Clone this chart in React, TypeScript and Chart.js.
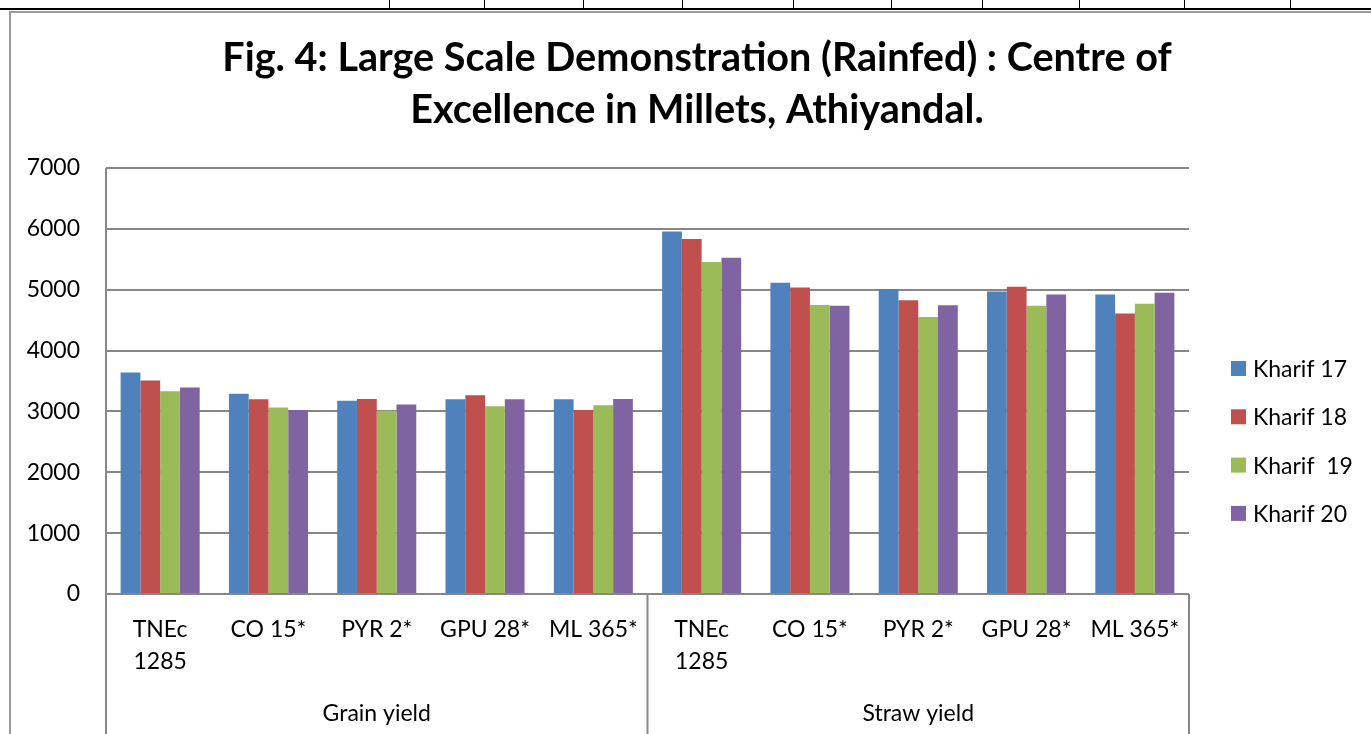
import React, { useEffect, useRef } from "react";
import { Chart, registerables } from "chart.js";

Chart.register(...registerables);

// ---------- data ----------
const TITLE_LINES = [
  "Fig. 4: Large Scale Demonstration (Rainfed) : Centre of",
  "Excellence in Millets, Athiyandal.",
];
const VARIETIES: (string | string[])[] = [["TNEc", "1285"], "CO 15*", "PYR 2*", "GPU 28*", "ML 365*"];
const GROUPS = ["Grain yield", "Straw yield"];
const CATEGORIES = [...VARIETIES, ...VARIETIES];
const SERIES_NAMES = ["Kharif 17", "Kharif 18", "Kharif  19", "Kharif 20"];
const SERIES_COLORS = ["#4F81BD", "#C0504D", "#9BBB59", "#8064A2"];
const KHARIF_17 = [3640, 3290, 3175, 3200, 3200, 5955, 5115, 5010, 4970, 4920];
const KHARIF_18 = [3510, 3200, 3205, 3265, 3025, 5835, 5035, 4825, 5050, 4610];
const KHARIF_19 = [3330, 3065, 3010, 3085, 3100, 5455, 4750, 4550, 4735, 4770];
const KHARIF_20 = [3395, 3025, 3115, 3200, 3205, 5525, 4735, 4745, 4920, 4950];
const SERIES = [KHARIF_17, KHARIF_18, KHARIF_19, KHARIF_20];
const Y_MIN = 0;
const Y_MAX = 7000;
const Y_STEP = 1000;
// decorative document-table ticks at top of page
const TABLE_COLS = [389, 484, 583, 682, 793, 891, 982, 1079, 1184, 1290];

// ---------- style ----------
const W = 1371;
const H = 734;
const FONT = "Lato, 'Open Sans', sans-serif";
const GRID = "#878787";
const PAD_LEFT = 23;
const PLOT_LEFT = 106;
const PLOT_RIGHT = 1189;
const PLOT_BOTTOM = 594;

const decorPlugin = {
  id: "decor",
  beforeDraw(chart: any) {
    const ctx = chart.ctx;
    ctx.save();
    // document table lines above the chart
    ctx.strokeStyle = "#000";
    ctx.lineWidth = 2;
    ctx.beginPath();
    ctx.moveTo(0, 9);
    ctx.lineTo(W, 9);
    ctx.stroke();
    ctx.lineWidth = 1;
    TABLE_COLS.forEach((cx) => {
      ctx.beginPath();
      ctx.moveTo(cx + 0.5, 0);
      ctx.lineTo(cx + 0.5, 9);
      ctx.stroke();
    });
    // chart frame
    ctx.strokeStyle = "#9a9a9a";
    ctx.lineWidth = 2;
    ctx.beginPath();
    ctx.moveTo(W, 12);
    ctx.lineTo(10, 12);
    ctx.lineTo(10, H);
    ctx.stroke();
    ctx.restore();
  },
  afterDraw(chart: any) {
    const ctx = chart.ctx;
    const ca = chart.chartArea;
    const x = chart.scales.x;
    const n = CATEGORIES.length;
    const per = VARIETIES.length;
    const half = (x.getPixelForTick(1) - x.getPixelForTick(0)) / 2;
    ctx.save();
    ctx.strokeStyle = GRID;
    ctx.lineWidth = 2;
    const bounds: number[] = [];
    for (let g = 0; g <= GROUPS.length; g++) {
      const bx = g < GROUPS.length ? x.getPixelForTick(g * per) - half : x.getPixelForTick(n - 1) + half;
      bounds.push(bx);
      ctx.beginPath();
      ctx.moveTo(bx, g === 0 ? ca.top : ca.bottom);
      ctx.lineTo(bx, H);
      ctx.stroke();
    }
    // group labels
    ctx.fillStyle = "#000";
    ctx.font = `23px ${FONT}`;
    ctx.textAlign = "center";
    ctx.textBaseline = "middle";
    GROUPS.forEach((g, i) => {
      ctx.fillText(g, (bounds[i] + bounds[i + 1]) / 2, H - 20);
    });
    // legend
    ctx.textAlign = "left";
    chart.data.datasets.forEach((ds: any, i: number) => {
      const cy = 368.5 + i * 48.3;
      ctx.fillStyle = ds.backgroundColor;
      ctx.fillRect(1231, cy - 7.5, 15, 15);
      ctx.fillStyle = "#000";
      ctx.fillText(ds.label, 1253, cy + 1);
    });
    ctx.restore();
  },
};

export default function App() {
  const ref = useRef<HTMLCanvasElement | null>(null);

  useEffect(() => {
    if (!ref.current) return;
    const chart = new Chart(ref.current, {
      type: "bar",
      data: {
        labels: CATEGORIES as any,
        datasets: SERIES.map((d, i) => ({
          label: SERIES_NAMES[i],
          data: d,
          backgroundColor: SERIES_COLORS[i],
          borderWidth: 0,
          categoryPercentage: 0.73,
          barPercentage: 1,
        })),
      },
      options: {
        responsive: false,
        animation: false,
        devicePixelRatio: 1,
        layout: { padding: { left: PAD_LEFT, right: 0, top: 0, bottom: 0 } },
        plugins: {
          legend: { display: false },
          tooltip: { enabled: false },
          title: {
            display: true,
            text: TITLE_LINES,
            color: "#000",
            font: { family: FONT, size: 39.6, weight: "bold", lineHeight: 52 / 39.6 },
            padding: { top: 32, bottom: 32 },
          },
        },
        scales: {
          x: {
            grid: { display: false, drawTicks: false, tickLength: 0 },
            border: { display: false },
            ticks: {
              color: "#000",
              font: { family: FONT, size: 23, lineHeight: 32 / 23 },
              padding: 20,
              maxRotation: 0,
              minRotation: 0,
              autoSkip: false,
            },
            afterFit: (s: any) => {
              s.height = H - PLOT_BOTTOM;
            },
          },
          y: {
            min: Y_MIN,
            max: Y_MAX,
            grid: { color: GRID, lineWidth: 2, drawTicks: false, tickLength: 0 },
            border: { display: false },
            ticks: {
              stepSize: Y_STEP,
              color: "#000",
              font: { family: FONT, size: 23 },
              padding: 26,
              callback: (v: any) => String(v),
            },
            afterFit: (s: any) => {
              s.width = PLOT_LEFT - PAD_LEFT;
            },
          },
          // empty right-hand band that holds the legend
          legendBand: {
            position: "right",
            display: true,
            grid: { display: false, drawTicks: false },
            border: { display: false },
            ticks: { display: false },
            afterFit: (s: any) => {
              s.width = W - PLOT_RIGHT;
            },
          },
        },
      } as any,
      plugins: [decorPlugin],
    });
    return () => chart.destroy();
  }, []);

  return (
    <div style={{ position: "fixed", left: 0, top: 0, width: W, height: H, background: "#fff" }}>
      <canvas ref={ref} width={W} height={H} style={{ display: "block" }} />
    </div>
  );
}
